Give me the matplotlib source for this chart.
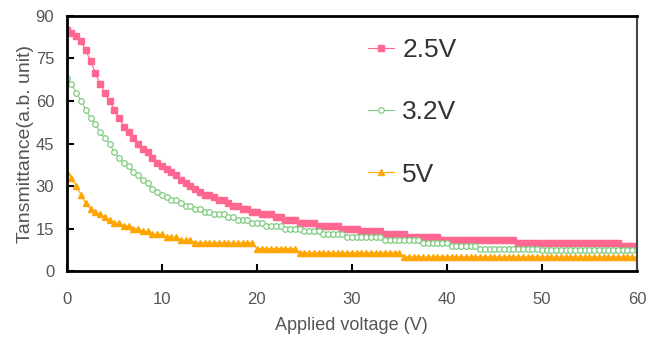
import numpy as np
import matplotlib
matplotlib.use("Agg")
import matplotlib.pyplot as plt

plt.rcParams.update({
    'font.family': ['Liberation Sans', 'DejaVu Sans'],
    'xtick.direction': 'in',
    'ytick.direction': 'in',
})

# applied voltage, 0.5 V steps
voltage = np.arange(0, 60.5, 0.5)

t_25 = [85, 84, 83, 81, 78, 74, 70, 66, 63, 60,
        57, 54, 51, 49, 47, 45, 43, 42, 40, 38,
        37, 36, 35, 34, 32, 31, 30, 29, 28, 27,
        27, 26, 25, 25, 24, 23, 23, 22, 22, 21,
        21, 20, 20, 20, 19, 19, 18, 18, 18, 17,
        17, 17, 17, 16, 16, 16, 16, 16, 15, 15,
        15, 15, 14, 14, 14, 14, 14, 13, 13, 13,
        13, 13, 12, 12, 12, 12, 12, 12, 12, 11,
        11, 11, 11, 11, 11, 11, 11, 11, 11, 11,
        11, 11, 11, 11, 11, 10, 10, 10, 10, 10,
        10, 10, 10, 10, 10, 10, 10, 10, 10, 10,
        10, 10, 10, 10, 10, 10, 10, 9, 9, 9,
        8.5]

t_32 = [68, 66, 63, 60, 57, 54, 52, 49, 47, 45,
        42, 40, 38, 37, 35, 34, 32, 31, 29, 28,
        27, 26, 25, 25, 24, 23, 23, 22, 22, 21,
        21, 20, 20, 20, 19, 19, 18, 18, 18, 17,
        17, 17, 16, 16, 16, 16, 15, 15, 15, 15,
        14, 14, 14, 14, 13, 13, 13, 13, 13, 12,
        12, 12, 12, 12, 12, 12, 12, 11, 11, 11,
        11, 11, 11, 11, 11, 10, 10, 10, 10, 10,
        10, 9, 9, 9, 9, 9, 9, 8, 8, 8,
        8, 8, 8, 8, 8, 8, 8, 8, 8, 8,
        7.5, 7.5, 7.5, 7.5, 7.5, 7.5, 7.5, 7.5, 7.5, 7.5,
        7.5, 7.5, 7.5, 7.5, 7.5, 7.5, 7.5, 7.5, 7.5, 7.5,
        7.5]

t_50 = [35, 33, 30, 27, 24, 22, 21, 20, 19, 18,
        17, 17, 16, 16, 15, 15, 14, 14, 13, 13,
        13, 12, 12, 12, 11, 11, 11, 10, 10, 10,
        10, 10, 10, 10, 10, 10, 10, 10, 10, 10,
        8, 8, 8, 8, 8, 8, 8, 8, 8, 6.5,
        6.5, 6.5, 6.5, 6.5, 6.5, 6.5, 6.5, 6.5, 6.5, 6.5,
        6.5, 6.5, 6.5, 6.5, 6.5, 6.5, 6.5, 6.5, 6.5, 6.5,
        6.5, 5, 5, 5, 5, 5, 5, 5, 5, 5,
        5, 5, 5, 5, 5, 5, 5, 5, 5, 5,
        5, 5, 5, 5, 5, 5, 5, 5, 5, 5,
        5, 5, 5, 5, 5, 5, 5, 5, 5, 5,
        5, 5, 5, 5, 5, 5, 5, 5, 5, 5,
        5]

labels = ['2.5V', '3.2V', '5V']

fig = plt.figure(figsize=(6.48, 3.39), dpi=100)
ax = fig.add_axes([0.103, 0.2, 0.88, 0.753])

ax.plot(voltage, t_25, color='#ff6690', lw=0.8, marker='s', ms=4.0,
        mfc='#ff6690', mec='#ff6690', label=labels[0])
ax.plot(voltage, t_32, color='#80cc80', lw=0.8, marker='o', ms=4.0,
        mfc='white', mec='#80cc80', mew=0.9, label=labels[1])
ax.plot(voltage, t_50, color='#ffa500', lw=0.8, marker='^', ms=4.3,
        mfc='#ffa500', mec='#ffa500', label=labels[2])

ax.set_xlim(0, 60)
ax.set_ylim(0, 90)
ax.set_xticks(np.arange(0, 61, 10))
ax.set_yticks(np.arange(0, 91, 15))
ax.tick_params(axis='both', length=5, width=1.5, color='black',
               labelsize=12, labelcolor='#555555')
ax.tick_params(axis='x', pad=15)
ax.tick_params(axis='y', pad=9)

for side in ['left', 'bottom', 'top']:
    ax.spines[side].set_linewidth(2)
    ax.spines[side].set_color('black')
ax.spines['right'].set_linewidth(1.5)
ax.spines['right'].set_color('#444444')

ax.set_xlabel('Applied voltage (V)', fontsize=13, color='#555555', labelpad=7)
ax.set_ylabel('Tansmittance(a.b. unit)', fontsize=14, color='#555555', labelpad=1)

leg = ax.legend(loc='upper left', bbox_to_anchor=(0.505, 0.965), frameon=False,
                fontsize=19, handlelength=1.0, handletextpad=0.3,
                labelspacing=1.45, borderpad=0, markerscale=1.0)
for t in leg.get_texts():
    t.set_color('#333333')

fig.savefig('out.png', dpi=100)
